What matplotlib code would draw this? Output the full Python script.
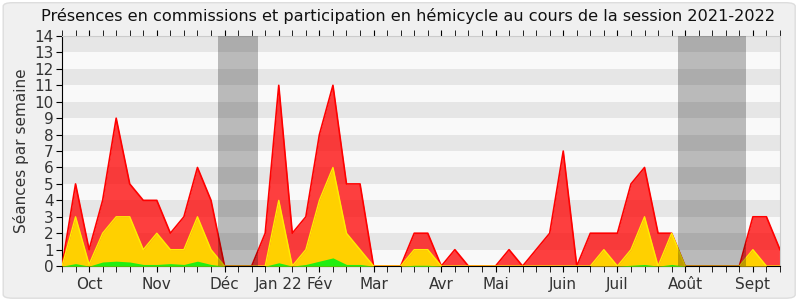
import numpy as np
import matplotlib.pyplot as plt
from matplotlib.patches import FancyBboxPatch

# weekly counts, session 2021-2022 (54 weekly points)
presences = [0, 5, 1, 4, 9, 5, 4, 4, 2, 3, 6, 4, 0, 0, 0, 2, 11, 2, 3, 8, 11, 5, 5, 0, 0, 0, 2, 2,
             0, 1, 0, 0, 0, 1, 0, 1, 2, 7, 0, 2, 2, 2, 5, 6, 2, 2, 0, 0, 0, 0, 0, 3, 3, 1]
commissions = [0, 3, 0.1, 2, 3, 3, 1, 2, 1, 1, 3, 1, 0, 0, 0, 0, 4, 0, 1, 4, 6, 2, 1, 0, 0, 0, 1, 1,
               0, 0, 0, 0, 0, 0, 0, 0, 0, 0, 0, 0, 1, 0, 1, 3, 0, 2, 0, 0, 0, 0, 0, 1, 0, 0]
hemicycle = [0, 0.15, 0, 0.25, 0.3, 0.25, 0.1, 0.1, 0.15, 0.1, 0.3, 0.1, 0, 0, 0, 0, 0.2, 0, 0.1, 0.3,
             0.5, 0.1, 0.1, 0, 0, 0, 0.05, 0.05, 0, 0, 0, 0, 0, 0, 0, 0, 0, 0, 0, 0, 0, 0, 0.05, 0.1,
             0, 0.1, 0, 0, 0, 0, 0, 0, 0, 0]
months = ['Oct', 'Nov', 'Déc', 'Jan 22', 'Fév', 'Mar', 'Avr', 'Mai', 'Juin', 'Juil', 'Août', 'Sept']
month_weeks = [2, 7, 12, 16, 19, 23, 28, 32, 37, 41, 46, 51]
vacances = [(11.5, 14.5), (45.5, 50.5)]

weeks = np.arange(len(presences))

fig = plt.figure(figsize=(8, 3), dpi=100, facecolor='white')
fig.patches.append(FancyBboxPatch((0.004, 0.006), 0.99, 0.985, boxstyle='round,pad=0,rounding_size=0.012',
                                  transform=fig.transFigure, facecolor='#f0f0f0', edgecolor='#dddddd',
                                  lw=1, zorder=-1))
ax = fig.add_axes([0.0775, 0.113, 0.8975, 0.767])
ax.set_facecolor('#f9f9f9')

# alternating horizontal stripes
for y in range(1, 14, 2):
    ax.axhspan(y, y + 1, color='#e6e6e6', lw=0, zorder=0)

ax.fill_between(weeks, presences, color='#ff0000', alpha=0.75, lw=0, zorder=2)
ax.plot(weeks, presences, color='#ff0000', lw=1.2, zorder=3)
ax.fill_between(weeks, commissions, color='#ffd000', lw=0, zorder=4)
ax.plot(weeks, commissions, color='#ffee00', lw=1, zorder=5)
ax.fill_between(weeks, hemicycle, color='#22ee11', lw=0, zorder=6)

for a, b in vacances:
    ax.axvspan(a, b, color='black', alpha=0.25, lw=0, zorder=7)

ax.set_xlim(0, len(presences) - 1)
ax.set_ylim(0, 14)
ax.set_yticks(range(0, 15))
ax.set_xticks(weeks, minor=True)
ax.set_xticks(month_weeks)
ax.set_xticklabels(months)
ax.tick_params(axis='x', which='major', length=4, labelsize=11, top=True)
ax.tick_params(axis='x', which='minor', length=4, top=True)
ax.tick_params(axis='y', length=4, labelsize=11, labelcolor='#333333', pad=2)
ax.tick_params(axis='x', which='both', labelcolor='#333333', color='black')

for s in ['top', 'right']:
    ax.spines[s].set_color('#cccccc')
ax.spines['left'].set_color('black')
ax.spines['bottom'].set_color('black')

ax.set_ylabel('Séances par semaine', fontsize=11, color='#333333', labelpad=4)
fig.text(0.51, 0.945, 'Présences en commissions et participation en hémicycle au cours de la session 2021-2022',
         ha='center', va='center', fontsize=11.6, color='#111111')

plt.savefig('out.png', dpi=100)
